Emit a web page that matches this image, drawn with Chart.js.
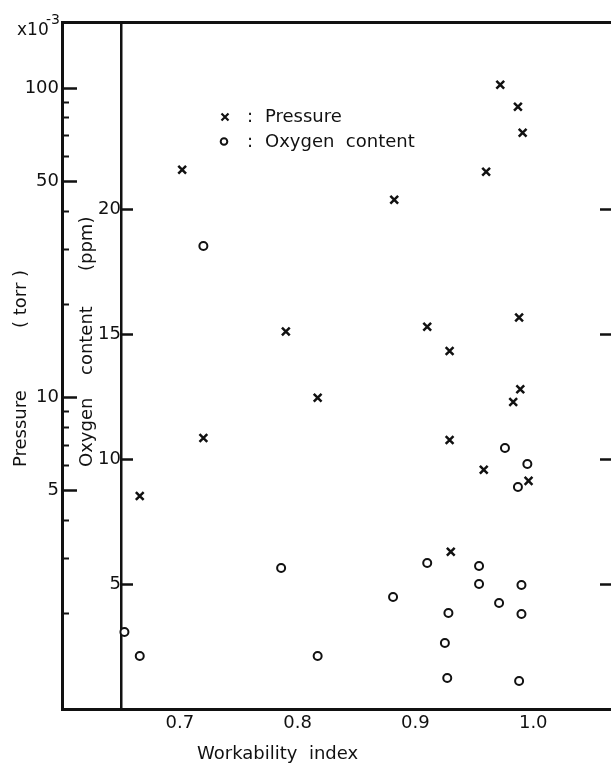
<!DOCTYPE html>
<html>
<head>
<meta charset="utf-8">
<script src="https://cdn.jsdelivr.net/npm/chart.js@4.4.1/dist/chart.umd.min.js"></script>
<style>
    html, body { margin: 0; padding: 0; background: #fff; }
</style>
</head>
<body>
<canvas id="chart-workability" width="611" height="767"></canvas>
<script>
// Presion (x 10^-3 torr) frente al indice de trabajabilidad
const workabilityPressure = [0.666, 0.702, 0.720, 0.790, 0.817, 0.882, 0.910, 0.929, 0.929, 0.930,
    0.958, 0.960, 0.972, 0.987, 0.991, 0.988, 0.989, 0.983, 0.996];
const pressureValues = [4.79, 54.4, 7.38, 16.3, 9.95, 43.5, 16.9, 14.1, 7.27, 3.16,
    5.82, 53.6, 102.5, 87.0, 71.7, 18.1, 10.6, 9.65, 5.36];

// Contenido de oxigeno (ppm)
const workabilityOxygen = [0.653, 0.666, 0.720, 0.786, 0.817, 0.881, 0.910, 0.925, 0.927, 0.928,
    0.954, 0.954, 0.971, 0.976, 0.987, 0.995, 0.990, 0.990, 0.988];
const oxygenValues = [3.08, 2.12, 18.52, 5.64, 2.12, 4.48, 5.84, 2.64, 1.24, 3.84,
    5.72, 5.0, 4.24, 10.44, 8.88, 9.8, 4.96, 3.8, 1.12];

const workabilityTicks = [0.7, 0.8, 0.9, 1.0];
const pressureMajorTicks = [5, 10, 50, 100];
const pressureMinorTicks = [2, 3, 4, 6, 7, 8, 9, 20, 30, 40, 60, 70, 80, 90];
const oxygenTicks = [5, 10, 15, 20];

const ink = '#111';
const fuente = 'DejaVu Sans';

const fijarTicks = valores => scale => {
    scale.ticks = valores.map(v => ({ value: v }));
};

// tamaño fijo de la caja del eje, sin el relleno extra que pide para sus etiquetas
const fijarCaja = (ancho, alto) => scale => {
    if (ancho !== null) scale.width = ancho;
    if (alto !== null) scale.height = alto;
    scale.paddingTop = 0;
    scale.paddingBottom = 0;
    scale.paddingLeft = 0;
    scale.paddingRight = 0;
};

// Textos sueltos: titulos de ejes, leyenda y el factor x10^-3
const textos = {
    id: 'textos',
    afterDraw(chart) {
        const c = chart.ctx;
        c.save();
        c.fillStyle = ink;
        c.strokeStyle = ink;

        c.textAlign = 'left';
        c.textBaseline = 'alphabetic';
        c.font = `17px "${fuente}"`;
        c.fillText('x10', 17, 35);
        c.font = `14px "${fuente}"`;
        c.fillText('-3', 46, 24);

        c.font = `18px "${fuente}"`;
        c.fillText('Workability  index', 197, 759);

        // leyenda
        c.lineWidth = 2.2;
        c.beginPath();
        c.moveTo(221.5, 113.5); c.lineTo(228.5, 120.5);
        c.moveTo(228.5, 113.5); c.lineTo(221.5, 120.5);
        c.stroke();
        c.lineWidth = 2;
        c.beginPath();
        c.arc(224, 141.5, 3.3, 0, Math.PI * 2);
        c.stroke();
        c.textBaseline = 'middle';
        c.fillText(':', 247, 117);
        c.fillText(':', 247, 142);
        c.fillText('Pressure', 265, 117);
        c.fillText('Oxygen  content', 265, 142);

        // titulos verticales
        c.textBaseline = 'alphabetic';
        c.save();
        c.translate(26, 467);
        c.rotate(-Math.PI / 2);
        c.fillText('Pressure', 0, 0);
        c.fillText('( torr )', 139, 0);
        c.restore();

        c.save();
        c.translate(92, 467);
        c.rotate(-Math.PI / 2);
        c.fillText('Oxygen', 0, 0);
        c.fillText('content', 92, 0);
        c.fillText('(ppm)', 196, 0);
        c.restore();

        c.restore();
    }
};

const ctx = document.getElementById('chart-workability').getContext('2d');

new Chart(ctx, {
    type: 'scatter',
    data: {
        datasets: [{
            label: 'Pressure',
            data: workabilityPressure.map((x, i) => ({ x: x, y: pressureValues[i] })),
            yAxisID: 'yP',
            pointStyle: 'crossRot',
            pointRadius: 5.5,
            pointBorderWidth: 2.5,
            pointBorderColor: ink,
            pointBackgroundColor: ink
        }, {
            label: 'Oxygen content',
            data: workabilityOxygen.map((x, i) => ({ x: x, y: oxygenValues[i] })),
            yAxisID: 'yO',
            pointStyle: 'circle',
            pointRadius: 4,
            pointBorderWidth: 2,
            pointBorderColor: ink,
            pointBackgroundColor: '#fff'
        }]
    },
    options: {
        responsive: false,
        animation: false,
        events: [],
        layout: { padding: 0, autoPadding: false },
        plugins: {
            legend: { display: false },
            tooltip: { enabled: false }
        },
        scales: {
            x: {
                type: 'linear',
                position: 'bottom',
                min: 0.6,
                max: 1.066,
                afterBuildTicks: fijarTicks(workabilityTicks),
                afterFit: fijarCaja(null, 58),
                grid: { display: false, drawTicks: false },
                border: { display: true, color: ink, width: 3 },
                ticks: {
                    color: ink,
                    font: { family: fuente, size: 18 },
                    padding: 4,
                    maxRotation: 0,
                    autoSkip: false,
                    callback: v => v.toFixed(1)
                }
            },
            xTop: {
                type: 'linear',
                position: 'top',
                min: 0.6,
                max: 1.066,
                afterFit: fijarCaja(null, 22),
                grid: { display: false, drawTicks: false },
                border: { display: true, color: ink, width: 3 },
                ticks: { display: false }
            },
            yP: {
                type: 'logarithmic',
                position: 'left',
                weight: 1,
                min: 0.98,
                max: 163.5,
                afterBuildTicks: fijarTicks(pressureMajorTicks),
                afterFit: fijarCaja(62, null),
                grid: { drawOnChartArea: false, tickLength: -15, tickWidth: 2.5, tickColor: ink },
                border: { display: true, color: ink, width: 3 },
                ticks: {
                    color: ink,
                    font: { family: fuente, size: 18 },
                    padding: 18,
                    callback: v => String(v)
                }
            },
            yPminor: {
                type: 'logarithmic',
                position: 'left',
                weight: 0,
                min: 0.98,
                max: 163.5,
                afterBuildTicks: fijarTicks(pressureMinorTicks),
                afterFit: fijarCaja(0, null),
                grid: { drawOnChartArea: false, tickLength: -7, tickWidth: 2, tickColor: ink },
                border: { display: false },
                ticks: { display: false }
            },
            yO: {
                type: 'linear',
                position: { x: 0.65 },
                min: 0,
                max: 27.48,
                afterBuildTicks: fijarTicks(oxygenTicks),
                afterFit: fijarCaja(null, null),
                grid: { drawOnChartArea: false, tickLength: -13, tickWidth: 2.5, tickColor: ink },
                border: { display: true, color: ink, width: 2.5 },
                ticks: {
                    color: ink,
                    font: { family: fuente, size: 18 },
                    padding: 17,
                    callback: v => String(v)
                }
            },
            yOR: {
                type: 'linear',
                position: 'right',
                min: 0,
                max: 27.48,
                afterBuildTicks: fijarTicks(oxygenTicks),
                afterFit: fijarCaja(0, null),
                grid: { drawOnChartArea: false, tickLength: -11, tickWidth: 2.5, tickColor: ink },
                border: { display: false },
                ticks: { display: false }
            }
        }
    },
    plugins: [textos]
});
</script>
</body>
</html>
